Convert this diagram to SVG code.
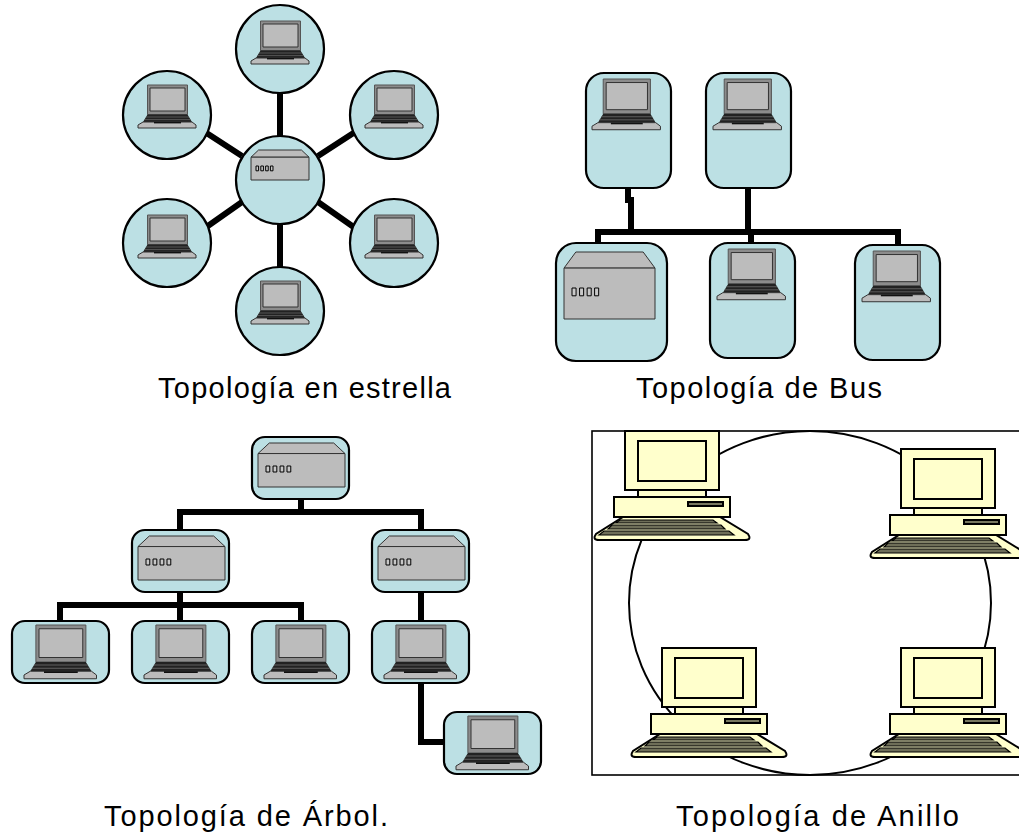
<svg xmlns="http://www.w3.org/2000/svg" width="1019" height="835" viewBox="0 0 1019 835">
<style>
.n{fill:#bce0e4;stroke:#000;stroke-width:2.2}
.w{fill:none;stroke:#000;stroke-width:6;stroke-linejoin:miter}
.g{fill:#bcbcbc;stroke:#333;stroke-width:1;vector-effect:non-scaling-stroke}
.f{fill:#8c8c8c;stroke:#555;stroke-width:1;vector-effect:non-scaling-stroke}
.d{fill:#c8c8c8;stroke:#000;stroke-width:1;vector-effect:non-scaling-stroke}
.y{fill:#ffffcc;stroke:#000;stroke-width:2}
.k{fill:#6e6e58;stroke:#000;stroke-width:1.2}
.t{font-family:"Liberation Sans",Arial,sans-serif;font-size:29px;fill:#000}
</style>
<defs>
<g id="laptop">
<rect class="f" x="9.5" y="0" width="40" height="29.5"/>
<rect class="g" x="12" y="3" width="35" height="23"/>
<path d="M9.5 29.5H49.5L54 37H5Z" fill="#222"/>
<path d="M8 32H51M6.5 34.6H52.5" stroke="#6a6a6a" stroke-width=".7" fill="none"/>
<path class="g" d="M5 37H54L58 40V43H0V40Z"/>
<rect x="16" y="37" width="27" height="1.4" fill="#111"/>
</g>
<g id="hub">
<path class="g" d="M13 0H87L100 24H0Z"/>
<rect class="g" x="0" y="24" width="100" height="76"/>
</g>
<g id="dots">
<rect class="d" x="0" y="0" width="3.6" height="6"/><rect class="d" x="6.7" y="0" width="3.6" height="6"/><rect class="d" x="13.4" y="0" width="3.6" height="6"/><rect class="d" x="20" y="0" width="3.6" height="6"/>
</g>
<g id="pc">
<rect class="y" x="32" y="0" width="94" height="59"/>
<rect class="y" x="45" y="10" width="68" height="40"/>
<rect class="y" x="45" y="59" width="68" height="7"/>
<rect class="y" x="21" y="66" width="116" height="20"/>
<rect class="y" x="95" y="71" width="35" height="4" style="fill:#77775f"/>
<path class="y" d="M30 86H127L155 103Q159 109 152 109H6Q-1 109 3 103Z"/>
<path class="k" d="M27 89H120L124 92H23ZM19 94H128L132 98H15ZM11 100H136L141 104H6Z"/>
</g>
</defs>
<g id="connectors">
<path class="w" d="M280 93V136M205 132L242 156M355 132L318 156M205 228L242 202M355 228L318 202M280 224V267"/>
<path class="w" d="M628 188V200H631V232M748 188V232M598 243V232H898V245M751 232V243"/>
<path class="w" d="M301 499V512M180 530V512H421V530M180 592V605M60 621V605H301V621M180 605V621M421 592V621M421 683V742H444"/>
</g>
<g id="ring-line"><ellipse cx="810" cy="603" rx="181" ry="172" fill="none" stroke="#000" stroke-width="2"/></g>
<g id="star-1"><circle class="n" cx="280" cy="49" r="44"/><use href="#laptop" x="251" y="21"/></g>
<g id="star-2"><circle class="n" cx="167" cy="115" r="44"/><use href="#laptop" x="138" y="85"/></g>
<g id="star-3"><circle class="n" cx="394" cy="115" r="44"/><use href="#laptop" x="365" y="85"/></g>
<g id="star-4"><circle class="n" cx="167" cy="243" r="44"/><use href="#laptop" x="138" y="215"/></g>
<g id="star-5"><circle class="n" cx="394" cy="243" r="44"/><use href="#laptop" x="365" y="215"/></g>
<g id="star-6"><circle class="n" cx="280" cy="311" r="44"/><use href="#laptop" x="251" y="281"/></g>
<g id="star-hub"><circle class="n" cx="280" cy="180" r="44"/><use href="#hub" transform="translate(251 150) scale(.58 .3)"/><use href="#dots" transform="translate(256 166) scale(.72 .8)"/></g>
<g id="bus-1"><rect class="n" x="586" y="73" width="85" height="115" rx="18"/><use href="#laptop" transform="translate(592 79) scale(1.18)"/></g>
<g id="bus-2"><rect class="n" x="706" y="73" width="85" height="115" rx="18"/><use href="#laptop" transform="translate(713 79) scale(1.18)"/></g>
<g id="bus-hub"><rect class="n" x="556" y="243" width="111" height="118" rx="20"/><use href="#hub" transform="translate(564 252) scale(.91 .67)"/><use href="#dots" transform="translate(572 288) scale(1.13 1.3)"/></g>
<g id="bus-3"><rect class="n" x="710" y="243" width="85" height="115" rx="18"/><use href="#laptop" transform="translate(717 249) scale(1.18)"/></g>
<g id="bus-4"><rect class="n" x="855" y="245" width="85" height="115" rx="18"/><use href="#laptop" transform="translate(862 251) scale(1.18)"/></g>
<g id="tree-root"><rect class="n" x="252" y="437" width="97" height="62" rx="13"/><use href="#hub" transform="translate(258 443) scale(.87 .44)"/><use href="#dots" transform="translate(266 466) scale(1.05 1)"/></g>
<g id="tree-hub-1"><rect class="n" x="132" y="530" width="97" height="62" rx="13"/><use href="#hub" transform="translate(138 536) scale(.87 .44)"/><use href="#dots" transform="translate(146 559) scale(1.05 1)"/></g>
<g id="tree-hub-2"><rect class="n" x="372" y="530" width="97" height="62" rx="13"/><use href="#hub" transform="translate(378 536) scale(.87 .44)"/><use href="#dots" transform="translate(386 559) scale(1.05 1)"/></g>
<g id="tree-1"><rect class="n" x="12" y="621" width="97" height="62" rx="13"/><use href="#laptop" transform="translate(24 625) scale(1.25)"/></g>
<g id="tree-2"><rect class="n" x="132" y="621" width="97" height="62" rx="13"/><use href="#laptop" transform="translate(144 625) scale(1.25)"/></g>
<g id="tree-3"><rect class="n" x="252" y="621" width="97" height="62" rx="13"/><use href="#laptop" transform="translate(264 625) scale(1.25)"/></g>
<g id="tree-4"><rect class="n" x="372" y="621" width="97" height="62" rx="13"/><use href="#laptop" transform="translate(384 625) scale(1.25)"/></g>
<g id="tree-5"><rect class="n" x="444" y="712" width="97" height="62" rx="13"/><use href="#laptop" transform="translate(456 716) scale(1.25)"/></g>
<rect id="ring-frame" x="592" y="431" width="440" height="344" fill="none" stroke="#000" stroke-width="1.6"/>
<g id="ring-1"><use href="#pc" x="593" y="431"/></g>
<g id="ring-2"><use href="#pc" x="869" y="449"/></g>
<g id="ring-3"><use href="#pc" x="630" y="648"/></g>
<g id="ring-4"><use href="#pc" x="869" y="648"/></g>
<text class="t" x="158" y="398" textLength="293" lengthAdjust="spacing">Topología en estrella</text>
<text class="t" x="636" y="398" textLength="246" lengthAdjust="spacing">Topología de Bus</text>
<text class="t" x="104" y="826" textLength="284" lengthAdjust="spacing">Topología de Árbol.</text>
<text class="t" x="676" y="826" textLength="283" lengthAdjust="spacing">Topología de Anillo</text>
</svg>
